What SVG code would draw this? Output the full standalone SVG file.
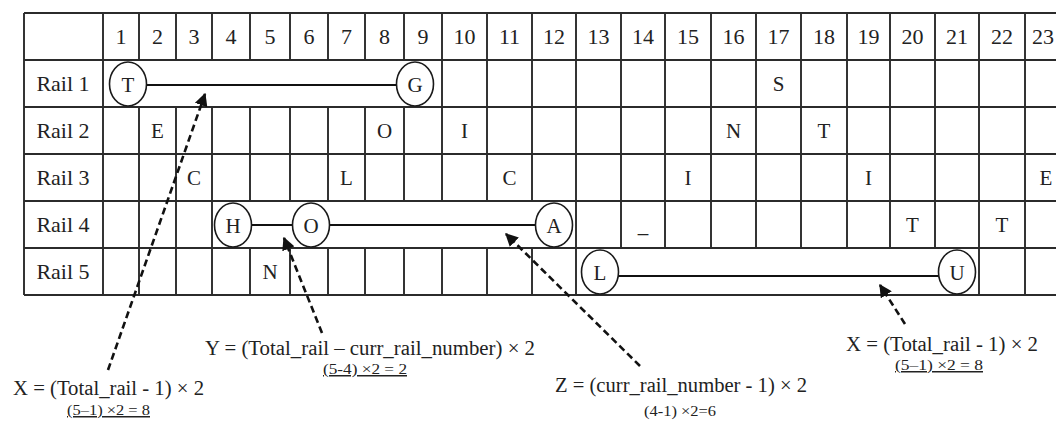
<svg xmlns="http://www.w3.org/2000/svg" width="1056" height="421" viewBox="0 0 1056 421">
<style>
.g{stroke:#2b2b2b;stroke-width:1.9;fill:none}
.t{font-family:"Liberation Serif","Times New Roman",serif;font-size:21px;fill:#222;text-anchor:middle}
.h{font-size:22px}
.c{fill:#fff;stroke:#1a1a1a;stroke-width:1.6}
.rl{stroke:#111;stroke-width:2.2}
.da{stroke:#111;stroke-width:2.6;stroke-dasharray:7 4;fill:none}
.a{font-family:"Liberation Serif","Times New Roman",serif;font-size:20.5px;fill:#222}
.s{font-family:"Liberation Serif","Times New Roman",serif;font-size:15px;fill:#222;text-anchor:middle}
.u{text-decoration:underline}
</style>
<defs>
<marker id="ah" viewBox="0 0 10 10" refX="9" refY="5" markerWidth="5" markerHeight="5" orient="auto" markerUnits="strokeWidth">
<path d="M0,0 L10,5 L0,10 z" fill="#111"/>
</marker>
</defs>
<rect width="1056" height="421" fill="#fff"/>
<g id="table">
<path class="g" d="M24,13H1056M24,60H1056M24,107H1056M24,154H1056M24,201H1056M24,248H1056M24,295H1056
M24,13V295M103,13V295
M139,13V60M139,107V295M176,13V60M176,107V295M212,13V60M212,107V295
M250,13V60M250,107V201M250,248V295M290,13V60M290,107V201M290,248V295M328,13V60M328,107V201M328,248V295M365,13V60M365,107V201M365,248V295M404,13V60M404,107V201M404,248V295
M442,13V201M442,248V295M487,13V201M487,248V295M532,13V201M532,248V295
M576,13V295
M621,13V248M665,13V248M711,13V248M756,13V248M801,13V248M847,13V248M890,13V248M935,13V248
M979,13V295M1025,13V295"/>
<g class="t h">
<text x="121" y="44">1</text><text x="157.5" y="44">2</text><text x="194" y="44">3</text><text x="231" y="44">4</text><text x="270" y="44">5</text><text x="309" y="44">6</text><text x="346.5" y="44">7</text><text x="384.5" y="44">8</text><text x="423" y="44">9</text><text x="464.5" y="44">10</text><text x="509.5" y="44">11</text><text x="554" y="44">12</text><text x="598.5" y="44">13</text><text x="643" y="44">14</text><text x="688" y="44">15</text><text x="733.5" y="44">16</text><text x="778.5" y="44">17</text><text x="824" y="44">18</text><text x="868.5" y="44">19</text><text x="912.5" y="44">20</text><text x="957" y="44">21</text><text x="1002" y="44">22</text><text x="1043" y="44">23</text>
<text x="63" y="91">Rail 1</text><text x="63" y="138">Rail 2</text><text x="63" y="185">Rail 3</text><text x="63" y="232">Rail 4</text><text x="63" y="279">Rail 5</text>
</g>
<g class="t">
<text x="778.5" y="91">S</text>
<text x="157.5" y="138">E</text><text x="384.5" y="138">O</text><text x="464.5" y="138">I</text><text x="733.5" y="138">N</text><text x="824" y="138">T</text>
<text x="194" y="185">C</text><text x="346.5" y="185">L</text><text x="509.5" y="185">C</text><text x="688" y="185">I</text><text x="868.5" y="185">I</text><text x="1046" y="185">E</text>
<text x="643" y="232">_</text><text x="912.5" y="232">T</text><text x="1002" y="232">T</text>
<text x="270" y="279">N</text>
</g>
</g>
<g id="connectors">
<line class="rl" x1="146" y1="85" x2="397" y2="85"/>
<line class="rl" x1="251" y1="225" x2="293" y2="225"/>
<line class="rl" x1="329" y1="225" x2="536" y2="225"/>
<line class="rl" x1="618" y1="276" x2="939" y2="276"/>
<line class="da" x1="108" y1="370" x2="205" y2="94" marker-end="url(#ah)"/>
<line class="da" x1="322" y1="333" x2="284" y2="238" marker-end="url(#ah)"/>
<line class="da" x1="640" y1="366" x2="506" y2="234" marker-end="url(#ah)"/>
<line class="da" x1="905" y1="324" x2="880" y2="285" marker-end="url(#ah)"/>
</g>
<g id="node-T"><ellipse class="c" cx="128" cy="84" rx="18.5" ry="22"/><text class="t" x="128" y="91.5">T</text></g>
<g id="node-G"><ellipse class="c" cx="415" cy="84" rx="18.5" ry="22"/><text class="t" x="415" y="91.5">G</text></g>
<g id="node-H"><ellipse class="c" cx="233" cy="225" rx="18.5" ry="22"/><text class="t" x="233" y="232.5">H</text></g>
<g id="node-O"><ellipse class="c" cx="311" cy="225" rx="18.5" ry="22"/><text class="t" x="311" y="232.5">O</text></g>
<g id="node-A"><ellipse class="c" cx="554" cy="225" rx="18.5" ry="22"/><text class="t" x="554" y="232.5">A</text></g>
<g id="node-L"><ellipse class="c" cx="600" cy="272" rx="18.5" ry="22"/><text class="t" x="600" y="279.5">L</text></g>
<g id="node-U"><ellipse class="c" cx="957" cy="272" rx="18.5" ry="22"/><text class="t" x="957" y="279.5">U</text></g>
<g id="label-X-left">
<text class="a" x="13" y="395" textLength="191" lengthAdjust="spacingAndGlyphs">X = (Total_rail - 1) × 2</text>
<text class="s u" x="108.5" y="415" textLength="83" lengthAdjust="spacingAndGlyphs">(5–1) ×2 = 8</text>
</g>
<g id="label-Y">
<text class="a" x="205" y="355" textLength="330" lengthAdjust="spacingAndGlyphs">Y = (Total_rail – curr_rail_number) × 2</text>
<text class="s u" x="365" y="374" textLength="84" lengthAdjust="spacingAndGlyphs">(5-4) ×2 = 2</text>
</g>
<g id="label-Z">
<text class="a" x="555" y="392" textLength="252" lengthAdjust="spacingAndGlyphs">Z = (curr_rail_number - 1) × 2</text>
<text class="s" x="680" y="416" textLength="72" lengthAdjust="spacingAndGlyphs">(4-1) ×2=6</text>
</g>
<g id="label-X-right">
<text class="a" x="846" y="351" textLength="192" lengthAdjust="spacingAndGlyphs">X = (Total_rail - 1) × 2</text>
<text class="s u" x="939" y="370" textLength="88" lengthAdjust="spacingAndGlyphs">(5–1) ×2 = 8</text>
</g>
</svg>
